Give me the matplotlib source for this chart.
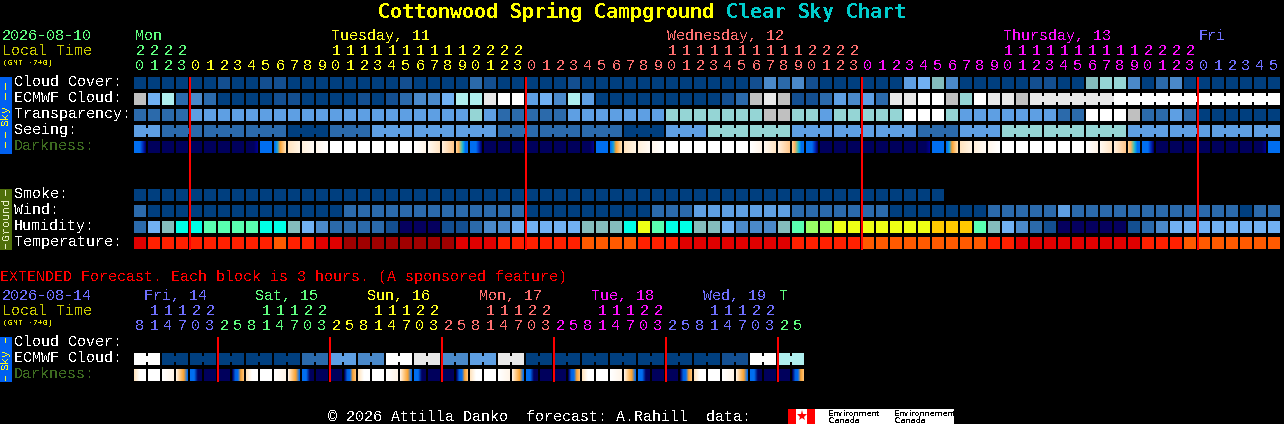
import matplotlib
matplotlib.use("Agg")
import matplotlib.pyplot as plt
from matplotlib.patches import Rectangle
from matplotlib.colors import to_rgb
import numpy as np

plt.rcParams['text.hinting'] = 'native'
plt.rcParams['text.hinting_factor'] = 1

palette = ['#003F7F', '#134F91', '#2B6AAB', '#4A89CA', '#5E9FE3', '#71B1F3',
           '#84BDBD', '#95D5D5', '#AFEEEE', '#C0C0C0', '#E8E8E8', '#FFFFFF',
           '#05005F', '#00FFE6', '#59FFB0', '#99FF66', '#EEFF15', '#FFC800',
           '#A00000', '#E00000', '#FF2000', '#FF5A00']

cloud_cover = [0,0,0,0,0,0,1,0,0,1, 1,0,0,0,0,0,0,0,0,1, 0,0,0,0,2,1,0,0,0,0,
               0,1,0,0,0,0,0,0,0,0, 0,0,0,0,1,3,2,3,1,0, 0,0,0,0,0,4,5,6,3,0,
               0,0,0,0,1,1,0,0,6,7, 7,3,0,2,3,0,0,0,0,0, 0,0]
ecmwf_cloud = [9,5,8,2,3,2,0,0,0,0, 1,1,0,0,0,0,1,0,1,2, 3,3,5,8,8,10,11,11,4,5,
               3,8,4,0,0,0,0,0,0,0, 0,0,1,2,9,10,9,1,1,2, 4,3,4,2,10,10,11,11,9,7,
               11,10,10,9,10,10,10,10,10,10, 11,11,11,11,11,11,11,11,11,11, 11,11]
transparency = [2,2,2,2,4,4,4,4,4,4, 4,4,4,4,4,4,4,4,4,4, 4,4,4,4,7,4,2,2,2,2,
                2,4,4,4,4,4,4,4,7,7, 7,7,7,7,7,9,9,7,7,4, 7,7,7,7,7,11,11,11,7,4,
                4,4,4,4,4,4,2,2,11,11, 11,9,2,2,4,2,0,0,0,0, 0,0]
seeing_blocks = [4,2,2,2,0,2,4,4,4,2,2,2,0,4,7,7,4,4,4,2,4,7,7,7,4,4,4,4]
seeing_spans = [2,3,3,3,3,3,3,3,3,3,3,3,3,3,3,3,3,3,3,3,3,3,3,3,3,3,3,2]
darkness = list("ANNNNNNNDBRIJKWWWWWWLMOS" "ANNNNNNNDBRIJKWWWWWWLMOS"
                "ANNNNNNNDBRIJKWWWWWWLMOS" "ANNNNNNNDB")
smoke = [0] * 58
wind = [2,0,0,0,0,0,0,0,0,0, 0,0,0,0,0,2,2,2,2,2, 2,2,2,2,2,2,2,2,0,0,
        0,0,0,0,0,0,0,2,2,2, 4,4,4,4,4,4,4,2,2,2, 2,2,2,2,0,0,0,0,0,0,
        0,2,2,2,2,2,4,2,2,2, 2,2,2,2,2,2,2,2,2,0, 2,2]
humidity = [2,5,6,13,13,14,14,14,14,13, 13,6,5,3,2,2,2,2,1,12, 12,12,1,1,2,3,3,5,5,5,
            5,5,6,6,6,13,16,14,13,13, 6,6,5,3,3,3,6,14,15,15, 16,16,16,16,16,16,16,17,17,17,
            14,6,5,3,2,1,12,12,12,12, 12,1,2,3,5,5,5,5,5,5, 5,5]
temperature = [19,20,20,20,20,20,20,20,20,20, 21,20,20,19,19,18,18,18,18,18,
               18,18,18,19,19,19,20,20,20,20, 20,20,21,21,21,21,20,20,20,19,
               19,19,19,19,19,19,19,20,20,20, 20,20,21,21,21,21,21,21,21,21,
               21,20,20,19,19,19,19,19,19,19, 19,19,20,20,20,21,21,21,21,21, 21,21]
ext_ecmwf = [11,0,0,0,0,0,2,4,3,11,10,3,4,10,0,0,0,0,0,0,0,1,11,8]
ext_darkness = list("EWLXZNNY" "EWLXZNNY" "EWLXZNNY" "EWLXZNNY" "EWLXZNNY" "EWLXZNNY")

hours = [20,21,22,23] + list(range(24)) * 3 + [0,1,2,3,4,5]
ext_hours = [8,11,14,17,20,23] + [2,5,8,11,14,17,20,23] * 5 + [2,5]
midnights = [4, 28, 52, 76]
ext_midnights = [6, 14, 22, 30, 38, 46]

day_labels = [("Mon", 0), ("Tuesday, 11", 14), ("Wednesday, 12", 38), ("Thursday, 13", 62), ("Fri", 76)]
ext_day_labels = [("Fri, 14", 144), ("Sat, 15", 255), ("Sun, 16", 367), ("Mon, 17", 479),
                  ("Tue, 18", 591), ("Wed, 19", 703), ("T", 779)]
day_colors = ['#60FF80', '#FFFF20', '#FF7070', '#FF10FF', '#7070FF']
ext_day_colors = ['#7070FF', '#60FF80', '#FFFF20', '#FF7070', '#FF10FF', '#7070FF', '#60FF80']

B, NV = '#006EF0', '#00005C'
dark_stops = {
    'N': [NV, NV], 'D': [NV, NV, NV, '#000090'], 'B': [B, B],
    'A': [B, B, B, '#0030C0', '#000070'],
    'S': ['#FFD090', '#FFB060', '#80C090', '#10B0E0', B, B],
    'R': [B, '#10A0E0', '#F8A030', '#FFC070', '#FFE0B0'],
    'I': ['#FFE4C0', '#FFF4E4'], 'J': ['#FFF0DC', '#FFFAF4'], 'K': ['#FFF6EC', '#FFFFFF'],
    'W': ['#FFFFFF', '#FFFFFF'], 'L': ['#FFFFFF', '#FFF4E8'], 'M': ['#FFF8F0', '#FFE4C4'],
    'O': ['#FFEEDC', '#FFC88C'],
    'E': ['#FFE4C0', '#FFFFFF', '#FFFFFF'],
    'X': ['#FFF0E0', '#FFC880', '#F8A030', B],
    'Z': [B, B, '#000060', NV],
    'Y': [NV, '#0060E0', B, '#F8A030', '#FFC070'],
}

fig = plt.figure(figsize=(12.84, 4.24), dpi=100, facecolor='black')
ax = fig.add_axes([0, 0, 1, 1])
ax.set_xlim(0, 1284)
ax.set_ylim(424, 0)
ax.axis('off')

X0, PITCH, CELL = 134, 14, 12
MONO = 'Liberation Mono'


def rect(x, y, w, h, c, z=2):
    ax.add_patch(Rectangle((x, y), w, h, facecolor=c, edgecolor='none', antialiased=False, zorder=z))


def txt(x, y, s, c='white', px=15, **kw):
    kw.setdefault('family', MONO)
    return ax.text(x, y, s, color=c, fontsize=px * 0.72, ha=kw.pop('ha', 'left'), va=kw.pop('va', 'baseline'),
                   antialiased=False, zorder=5, **kw)


def row(values, y, links=()):
    for i, v in enumerate(values):
        rect(X0 + i * PITCH, y, CELL, CELL, palette[v])
    for i in links:
        rect(X0 + i * PITCH + CELL, y + 3, PITCH - CELL, 6, palette[values[i]])


def gradient_row(codes, y):
    for i, code in enumerate(codes):
        stops = np.array([to_rgb(c) for c in dark_stops[code]])
        pos = np.linspace(0, 1, len(stops))
        for k in range(CELL):
            t = k / (CELL - 1)
            col = [np.interp(t, pos, stops[:, ch]) for ch in range(3)]
            rect(X0 + i * PITCH + k, y, 1, CELL, col)


def hour_color(i, first_day_len, period, colors):
    if i < first_day_len:
        return colors[0]
    return colors[1 + (i - first_day_len) // period]


# title
txt(378, 18, "Cottonwood Spring Campground", '#FFFF00', px=20, family='DejaVu Sans Mono', weight='bold')
txt(726, 18, "Clear Sky Chart", '#00CCCC', px=20, family='DejaVu Sans Mono', weight='bold')

# main header
txt(2, 40, "2026-08-10", '#60FF80')
txt(2, 55, "Local Time", '#C8C800')
txt(3, 65, "(GMT -7+0)", '#E0E000', px=8)
for s, col, c in zip([d[0] for d in day_labels], [d[1] for d in day_labels], day_colors):
    txt(X0 + col * PITCH + 1, 40, s, c)
for i, h in enumerate(hours):
    c = hour_color(i, 4, 24, day_colors)
    cx = X0 + i * PITCH + CELL / 2
    txt(cx, 70, str(h % 10), c, ha='center')
    if h >= 10:
        txt(cx, 55, str(h // 10), c, ha='center')

# row labels
for s, y, c in [("Cloud Cover:", 86, 'white'), ("ECMWF Cloud:", 102, 'white'),
                ("Transparency:", 118, 'white'), ("Seeing:", 134, 'white'),
                ("Darkness:", 150, '#3D6B20'),
                ("Smoke:", 198, 'white'), ("Wind:", 214, 'white'),
                ("Humidity:", 230, 'white'), ("Temperature:", 246, 'white'),
                ("Cloud Cover:", 346, 'white'), ("ECMWF Cloud:", 362, 'white'),
                ("Darkness:", 378, '#3D6B20')]:
    txt(14, y, s, c)

# side bars
rect(0, 77, 12, 77, '#0060F0')
rect(0, 189, 12, 61, '#4F6F0A')
rect(0, 337, 12, 45, '#0060F0')
for y0, y1 in [(83, 90), (93, 100), (132, 138), (142, 148)]:
    rect(5, y0, 1, y1 - y0, '#FFFF20', z=4)
for y0, y1 in [(190, 196), (244, 249)]:
    rect(5, y0, 1, y1 - y0, '#E8F0C8', z=4)
for y0, y1 in [(338, 343), (376, 381)]:
    rect(5, y0, 1, y1 - y0, '#FFFF20', z=4)
txt(6, 115.5, "Sky", '#FFFF20', px=11, rotation=90, ha='center', va='center')
txt(6, 219.5, "Ground", '#E8F0C8', px=11, rotation=90, ha='center', va='center')
txt(6, 359.5, "Sky", '#FFFF20', px=11, rotation=90, ha='center', va='center')

# main rows
row(cloud_cover, 77)
row(ecmwf_cloud, 93, links=[64,65,66,67,68,69,70,71,72,73,74,75,76,77,78,79,80])
row(transparency, 109)
seeing_cells, seeing_links, start = [], [], 0
for v, n in zip(seeing_blocks, seeing_spans):
    seeing_cells += [v] * n
    seeing_links += list(range(start, start + n - 1))
    start += n
row(seeing_cells, 125, links=seeing_links)
gradient_row(darkness, 141)
row(smoke, 189)
row(wind, 205)
row(humidity, 221)
row(temperature, 237)
for m in midnights:
    rect(X0 + m * PITCH - 1, 77, 2, 173, '#FF0000', z=4)

# extended
txt(0, 281, "EXTENDED Forecast. Each block is 3 hours. (A sponsored feature)", '#FF0000')
txt(2, 300, "2026-08-14", '#7070FF')
txt(2, 315, "Local Time", '#C8C800')
txt(3, 325, "(GMT -7+0)", '#E0E000', px=8)
for (s, x), c in zip(ext_day_labels, ext_day_colors):
    txt(x, 300, s, c)
for i, h in enumerate(ext_hours):
    c = hour_color(i, 6, 8, ext_day_colors)
    cx = X0 + i * PITCH + CELL / 2
    txt(cx, 330, str(h % 10), c, ha='center')
    if h >= 10:
        txt(cx, 315, str(h // 10), c, ha='center')

ext_cells = [v for v in ext_ecmwf for _ in (0, 1)]
row(ext_cells, 353, links=list(range(0, 48, 2)))
gradient_row(ext_darkness, 369)
for m in ext_midnights:
    rect(X0 + m * PITCH - 1, 337, 2, 45, '#FF0000', z=4)

# footer
txt(328, 421, "\u00a9 2026 Attilla Danko  forecast: A.Rahill  data:", 'white')
rect(788, 409, 166, 15, 'white')
rect(788, 409, 8, 15, '#FF0000')
rect(807, 409, 8, 15, '#FF0000')
ax.plot([801.5], [416], marker='*', ms=8, color='#FF0000', mew=0, zorder=5)
for x, s in [(828, "Environment"), (894, "Environnement")]:
    txt(x, 415.5, s, 'black', px=8, family='DejaVu Sans')
    txt(x, 423, "Canada", 'black', px=8, family='DejaVu Sans')

fig.savefig('out.png', dpi=100, facecolor='black')
